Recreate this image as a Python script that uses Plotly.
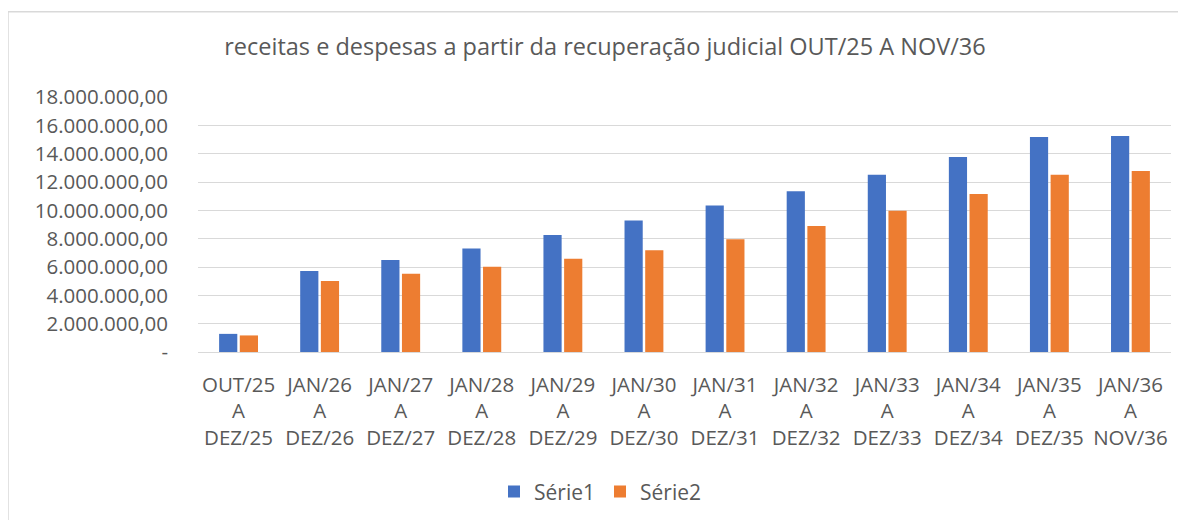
import plotly.graph_objects as go

categories = ["OUT/25<br>A<br>DEZ/25", "JAN/26<br>A<br>DEZ/26", "JAN/27<br>A<br>DEZ/27",
              "JAN/28<br>A<br>DEZ/28", "JAN/29<br>A<br>DEZ/29", "JAN/30<br>A<br>DEZ/30",
              "JAN/31<br>A<br>DEZ/31", "JAN/32<br>A<br>DEZ/32", "JAN/33<br>A<br>DEZ/33",
              "JAN/34<br>A<br>DEZ/34", "JAN/35<br>A<br>DEZ/35", "JAN/36<br>A<br>NOV/36"]
serie1 = [1280000, 5720000, 6490000, 7300000, 8260000, 9290000, 10340000, 11340000,
          12510000, 13770000, 15170000, 15240000]
serie2 = [1170000, 5020000, 5530000, 6010000, 6580000, 7190000, 7960000, 8890000,
          9970000, 11160000, 12510000, 12770000]
tick_vals = [0, 2000000, 4000000, 6000000, 8000000, 10000000, 12000000, 14000000, 16000000, 18000000]
tick_text = ["-", "2.000.000,00", "4.000.000,00", "6.000.000,00", "8.000.000,00", "10.000.000,00",
             "12.000.000,00", "14.000.000,00", "16.000.000,00", "18.000.000,00"]
title = "receitas e despesas a partir da recuperação judicial OUT/25 A NOV/36"

FONT = "Open Sans"
GREY = "#595959"

fig = go.Figure()
fig.add_trace(go.Bar(x=categories, y=serie1, name="Série1", marker=dict(color="#4472C4", line=dict(width=0))))
fig.add_trace(go.Bar(x=categories, y=serie2, name="Série2", marker=dict(color="#ED7D31", line=dict(width=0))))

OFF = 8  # page body margin
W, H = 1170, 512
L, R, T, B = 198 - OFF, 1171 - OFF, 97 - OFF, 354 - OFF
pw, ph = R - L, B - T

def px_x(p):
    return (p - OFF - L) / pw

def px_y(p):
    return (B - (p - OFF)) / ph

border = dict(color="#D9D9D9", width=1.5)

fig.update_layout(
    width=W, height=H,
    margin=dict(l=L, r=W - R, t=T, b=H - B, pad=0),
    paper_bgcolor="white", plot_bgcolor="white",
    barmode="group", bargap=0.49, bargroupgap=0.12,
    font=dict(family=FONT, size=20.5, color=GREY),
    title=dict(text=title, x=(605 - OFF) / W, xanchor="center", y=1 - (47 - OFF) / H, yanchor="middle",
               font=dict(family=FONT, size=23.5, color=GREY)),
    xaxis=dict(tickfont=dict(size=20.5, color=GREY), showline=True, linecolor="#D9D9D9", linewidth=1,
               ticks="", showgrid=False, ticklabelstandoff=14),
    yaxis=dict(range=[0, 18000000], tickvals=tick_vals, ticktext=tick_text,
               showgrid=True, gridcolor="#D9D9D9", gridwidth=1, zeroline=False,
               tickfont=dict(size=20.5, color=GREY), ticks="", ticklabelstandoff=29),
    legend=dict(orientation="h", x=px_x(600), xanchor="center", y=px_y(495), yanchor="middle",
                font=dict(size=21, color=GREY), itemwidth=30, traceorder="normal"),
    shapes=[
        dict(type="line", xref="paper", yref="paper", x0=px_x(8), x1=px_x(1220), y0=px_y(11), y1=px_y(11),
             line=border, layer="below"),
        dict(type="line", xref="paper", yref="paper", x0=px_x(8), x1=px_x(8), y0=px_y(11), y1=px_y(560),
             line=border, layer="below"),
    ],
)

fig.write_html("out.html")
